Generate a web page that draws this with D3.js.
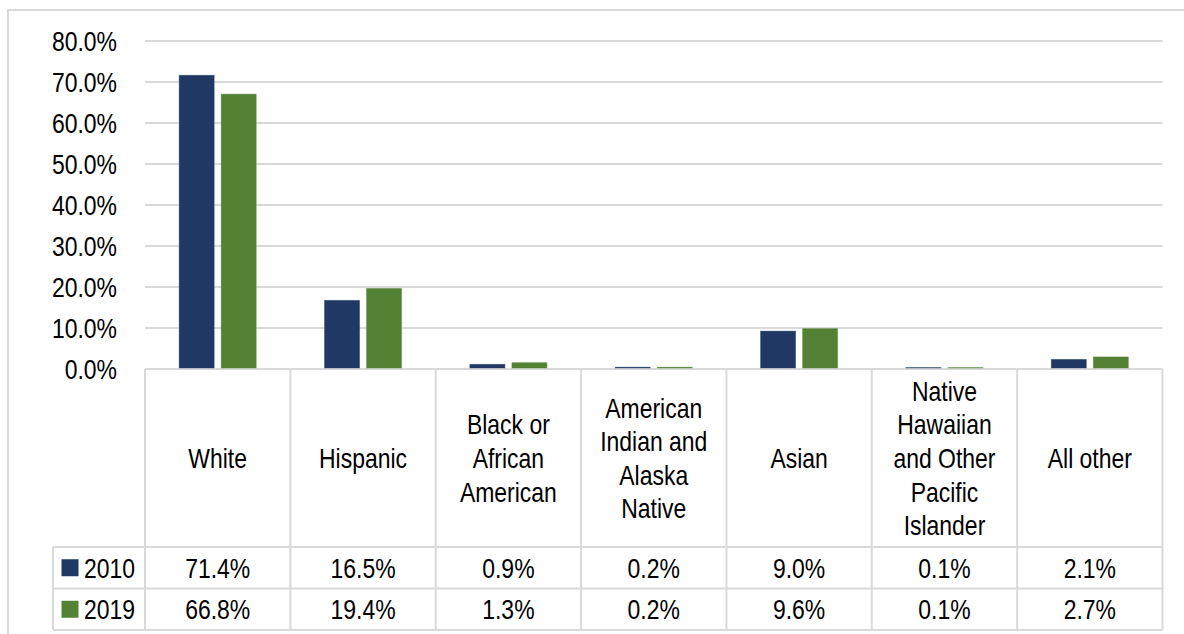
<!DOCTYPE html>
<html>
<head>
<meta charset="utf-8">
<script src="https://cdn.jsdelivr.net/npm/d3@7"></script>
<style>
  body { margin: 0; background: #fff; }
  text { font-family: "Liberation Sans", Arial, sans-serif; fill: #000; }
</style>
</head>
<body>
<div id="chart"></div>
<script>
// data
var categories = ['White', 'Hispanic', 'Black or African American', 'American Indian and Alaska Native',
  'Asian', 'Native Hawaiian and Other Pacific Islander', 'All other'];
var categoryLines = [['White'], ['Hispanic'], ['Black or', 'African', 'American'],
  ['American', 'Indian and', 'Alaska', 'Native'], ['Asian'],
  ['Native', 'Hawaiian', 'and Other', 'Pacific', 'Islander'], ['All other']];
var seriesNames = ['2010', '2019'];
var values2010 = [0.714, 0.165, 0.009, 0.002, 0.090, 0.001, 0.021];
var values2019 = [0.668, 0.194, 0.013, 0.002, 0.096, 0.001, 0.027];
var seriesColors = ['#203864', '#548235'];
var yTicks = [0, 0.1, 0.2, 0.3, 0.4, 0.5, 0.6, 0.7, 0.8];

var w = 1184, h = 634;
var gridColor = '#d9d9d9';
var fontSize = 28;
var sx = 0.82; // narrow look: squeeze text horizontally

var svg = d3.select('#chart').append('svg')
  .attr('width', w).attr('height', h);

svg.append('rect').attr('width', w).attr('height', h).attr('fill', '#fff');

// outer frame (only top and left visible)
svg.append('path')
  .attr('d', 'M8,' + h + 'V10H' + w)
  .attr('fill', 'none').attr('stroke', gridColor).attr('stroke-width', 2);

var x = d3.scaleBand().domain(categories).range([145, 1162.5]);
var xs = d3.scaleBand().domain(seriesNames).range([0, x.bandwidth()])
  .paddingInner(0.1667).paddingOuter(0.8125);
var y = d3.scaleLinear().domain([0, 0.8]).range([369, 41]);

var fmt = d3.format('.1%');

// all text lives in a squeezed group, x positions divided by sx
function label(xx, yy, str, anchor) {
  return textG.append('text')
    .attr('x', xx / sx).attr('y', yy).attr('dy', '0.36em')
    .attr('text-anchor', anchor || 'middle')
    .style('font-size', fontSize + 'px')
    .text(str);
}

// gridlines
svg.append('g').selectAll('line')
  .data(yTicks.slice(1))
  .enter().append('line')
  .attr('x1', 145).attr('x2', 1162.5)
  .attr('y1', function (d) { return y(d); })
  .attr('y2', function (d) { return y(d); })
  .attr('stroke', gridColor).attr('stroke-width', 2);

// data table
var rowTop = 369, rowMid = 547, rowH = 41.5, tableLeft = 53;
var table = svg.append('g')
  .attr('stroke', gridColor).attr('stroke-width', 2).attr('fill', 'none');

table.append('line').attr('x1', 145).attr('x2', 1162.5).attr('y1', rowTop).attr('y2', rowTop);
[0, 1, 2].forEach(function (r) {
  var yy = rowMid + r * rowH;
  table.append('line').attr('x1', tableLeft).attr('x2', 1162.5).attr('y1', yy).attr('y2', yy);
});
table.append('line').attr('x1', tableLeft).attr('x2', tableLeft)
  .attr('y1', rowMid).attr('y2', rowMid + 2 * rowH);
categories.concat([null]).forEach(function (c) {
  var xx = c ? x(c) : x.range()[1];
  table.append('line').attr('x1', xx).attr('x2', xx)
    .attr('y1', rowTop).attr('y2', rowMid + 2 * rowH);
});

// bars
var series = [values2010, values2019];
series.forEach(function (vals, si) {
  svg.append('g').selectAll('rect')
    .data(vals)
    .enter().append('rect')
    .attr('x', function (d, i) { return x(categories[i]) + xs(seriesNames[si]); })
    .attr('width', xs.bandwidth())
    .attr('y', function (d) { return y(d) - 1; })
    .attr('height', function (d) { return y(0) - y(d); })
    .attr('fill', seriesColors[si])
    .attr('stroke', seriesColors[si])
    .attr('stroke-opacity', 0.5)
    .attr('stroke-width', 0.8);
});

var textG = svg.append('g').attr('transform', 'scale(' + sx + ',1)');

// y axis labels
yTicks.forEach(function (t) { label(117, y(t), fmt(t), 'end'); });

// category labels
var lineH = 33.6;
categories.forEach(function (c, i) {
  var lines = categoryLines[i];
  var cx = x(c) + x.bandwidth() / 2;
  var cy = (rowTop + rowMid) / 2;
  var y0 = cy - (lines.length - 1) * lineH / 2;
  lines.forEach(function (ln, j) { label(cx, y0 + j * lineH, ln); });
});

// value rows + legend keys
series.forEach(function (vals, si) {
  var cy = rowMid + si * rowH + rowH / 2;
  svg.append('rect')
    .attr('x', 61.5).attr('y', cy - 8.5)
    .attr('width', 17).attr('height', 17)
    .attr('fill', seriesColors[si]);
  label(84, cy, seriesNames[si], 'start');
  vals.forEach(function (d, i) {
    label(x(categories[i]) + x.bandwidth() / 2, cy, fmt(d));
  });
});
</script>
</body>
</html>
